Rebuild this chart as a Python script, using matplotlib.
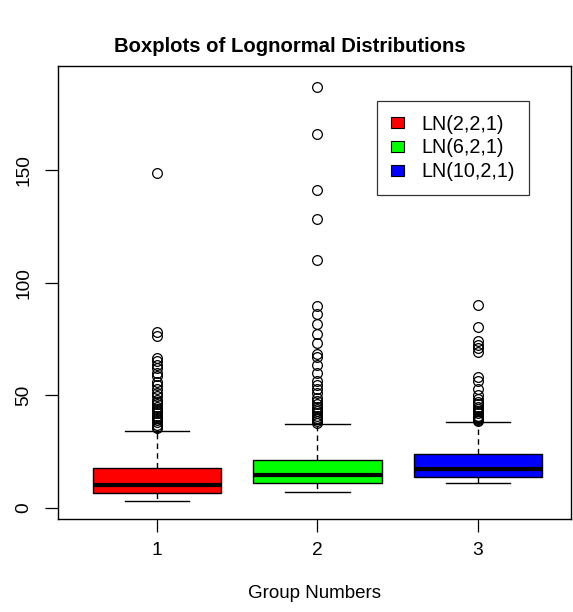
import numpy as np
import matplotlib.pyplot as plt
from matplotlib.patches import Patch

plt.rcParams['font.family'] = ['Liberation Sans', 'DejaVu Sans']

# data
groups = [1, 2, 3]
labels = ["LN(2,2,1)", "LN(6,2,1)", "LN(10,2,1)"]
colors = ["#ff0000", "#00ff00", "#0000ff"]
q1 = [6.8, 11.0, 13.9]
med = [10.2, 14.6, 17.3]
q3 = [17.6, 21.3, 23.8]
whislo = [3.1, 7.2, 11.0]
whishi = [34.2, 37.1, 38.3]
fliers1 = [148.5, 78, 76.5, 66.5, 65, 63.5, 62, 60, 58.5, 56, 54.5, 53, 51,
           49.5, 48, 47, 46, 45, 44, 43, 42, 41, 40, 39, 38, 37, 36, 35.5]
fliers2 = [187, 166, 141, 128, 110, 89.5, 86, 81.5, 77, 73, 68.5, 67, 63.5,
           60, 56.5, 54.5, 53, 51, 49, 47.5, 46, 45, 44, 43, 42, 41, 40,
           39.5, 38.5, 37.5]
fliers3 = [90, 80.5, 74, 72.5, 71, 69, 58, 56.5, 53, 50, 48.5, 47, 46, 45,
           44, 43, 42, 41, 40.5, 40, 39.5, 39, 38.5]
fliers = [fliers1, fliers2, fliers3]

stats = []
for i in range(3):
    stats.append(dict(med=med[i], q1=q1[i], q3=q3[i], whislo=whislo[i],
                      whishi=whishi[i], fliers=fliers[i]))

fig = plt.figure(figsize=(5.73, 6.12), dpi=100)
ax = fig.add_axes([58/573, (612-519)/612, (571-58)/573, (519-66)/612])

bp = ax.bxp(stats, positions=groups, widths=0.8, patch_artist=True,
            showfliers=True,
            boxprops=dict(edgecolor="black", linewidth=1.0),
            medianprops=dict(color="black", linewidth=3.0),
            whiskerprops=dict(color="black", linewidth=1.0, linestyle=(0, (4, 3))),
            capprops=dict(color="black", linewidth=1.0),
            capwidths=0.4,
            flierprops=dict(marker="o", markerfacecolor="none",
                            markeredgecolor="black", markersize=7,
                            markeredgewidth=0.9, linestyle="none"))
for patch, c in zip(bp["boxes"], colors):
    patch.set_facecolor(c)

ax.set_xlim(0.383, 3.58)
ax.set_ylim(-4.9, 196.1)
ax.set_xticks(groups)
ax.set_xticklabels([str(g) for g in groups])
ax.set_yticks([0, 50, 100, 150])
ax.set_yticklabels(["0", "50", "100", "150"], rotation=90, va="center")
ax.tick_params(direction="out", length=9.4, width=0.9, labelsize=13.8)
ax.tick_params(axis="x", pad=7)
ax.tick_params(axis="y", pad=9)
for s in ax.spines.values():
    s.set_linewidth(1.0)

ax.set_xlabel("Group Numbers", fontsize=13.5, labelpad=19)
fig.text(290/573, 1 - 47/612, "Boxplots of Lognormal Distributions",
         ha="center", va="center", fontsize=14.6, fontweight="bold")

handles = [Patch(facecolor=c, edgecolor="black", linewidth=0.8) for c in colors]
leg = ax.legend(handles, labels, loc="upper left", bbox_to_anchor=(0.622, 0.923),
                fontsize=14.2, frameon=True, fancybox=False, handlelength=0.65,
                handleheight=0.5, handletextpad=0.9, borderpad=0.7,
                labelspacing=0.24, borderaxespad=0)
leg.get_frame().set_edgecolor("black")
leg.get_frame().set_linewidth(0.9)

fig.savefig("out.png", dpi=100)
